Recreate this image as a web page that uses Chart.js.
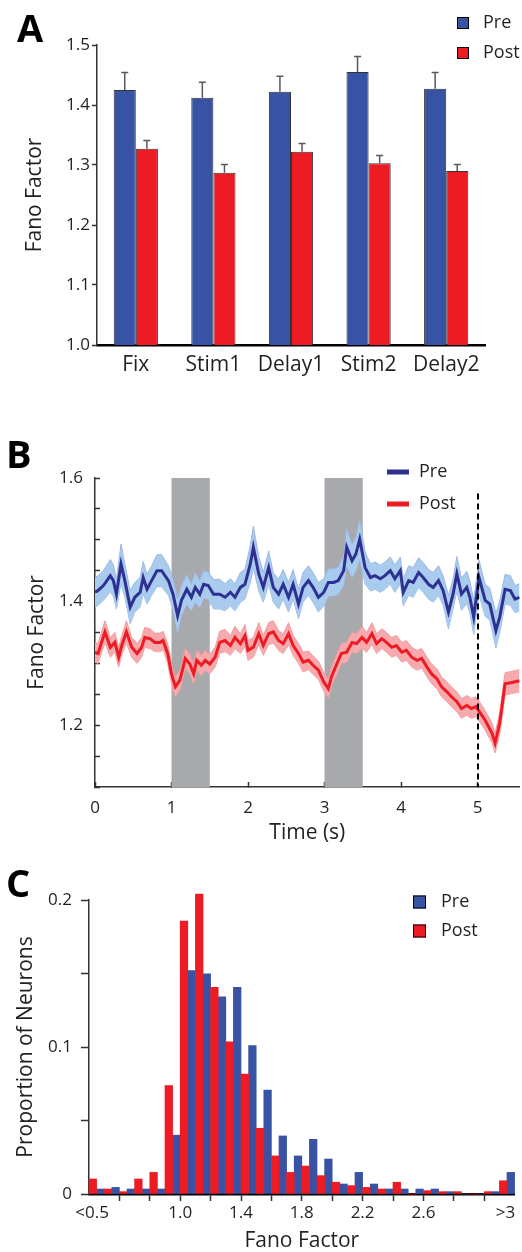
<!DOCTYPE html>
<html>
<head>
<meta charset="utf-8">
<script src="https://cdn.jsdelivr.net/npm/chart.js@4.4.1/dist/chart.umd.min.js"></script>
<style>
    body { margin: 0; background: #fff; width: 522px; height: 1252px; position: relative; overflow: hidden; }
    canvas { position: absolute; left: 0; }
    .panel-letter { position: absolute; font: bold 38px 'Open Sans', sans-serif; line-height: 1; color: #000; }
</style>
</head>
<body>
<canvas id="chartA" width="522" height="400" style="top:0"></canvas>
<canvas id="chartB" width="522" height="430" style="top:420px"></canvas>
<canvas id="chartC" width="522" height="402" style="top:850px"></canvas>
<div class="panel-letter" style="left:17px;top:8px">A</div>
<div class="panel-letter" style="left:6px;top:434px">B</div>
<div class="panel-letter" style="left:6px;top:863px">C</div>
<script>
// ---- Panel A: mean Fano factor per task epoch
var epochLabels = ['Fix', 'Stim1', 'Delay1', 'Stim2', 'Delay2'];
var preMeans = [1.425, 1.412, 1.422, 1.455, 1.427];
var preErrors = [0.029, 0.026, 0.026, 0.026, 0.027];
var postMeans = [1.327, 1.287, 1.322, 1.303, 1.290];
var postErrors = [0.014, 0.014, 0.014, 0.013, 0.011];

// ---- Panel B: Fano factor over time (mean and sem)
var preTime = [0, 0.04, 0.11, 0.20, 0.24, 0.28, 0.34, 0.39, 0.46, 0.52, 0.59, 0.63, 0.68, 0.74, 0.81, 0.87, 0.96, 1.02, 1.08, 1.13,
    1.20, 1.26, 1.31, 1.37, 1.42, 1.48, 1.55, 1.63, 1.70, 1.77, 1.83, 1.90, 1.96, 2.03, 2.07, 2.14, 2.20, 2.27, 2.33, 2.40,
    2.46, 2.53, 2.59, 2.66, 2.72, 2.79, 2.85, 2.92, 2.99, 3.05, 3.12, 3.18, 3.25, 3.29, 3.36, 3.41, 3.46, 3.53, 3.60, 3.66,
    3.73, 3.79, 3.86, 3.92, 3.99, 4.03, 4.10, 4.16, 4.23, 4.29, 4.36, 4.42, 4.49, 4.55, 4.62, 4.68, 4.73, 4.79, 4.86, 4.90,
    4.95, 5.02, 5.10, 5.16, 5.24, 5.29, 5.36, 5.43, 5.49, 5.55];
var preMean = [1.415, 1.418, 1.426, 1.442, 1.434, 1.412, 1.461, 1.434, 1.391, 1.407, 1.415, 1.439, 1.420, 1.434, 1.450, 1.450, 1.434, 1.412, 1.377, 1.402,
    1.420, 1.407, 1.423, 1.412, 1.428, 1.426, 1.412, 1.412, 1.407, 1.415, 1.407, 1.423, 1.428, 1.461, 1.488, 1.445, 1.423, 1.455, 1.423, 1.412,
    1.428, 1.407, 1.428, 1.396, 1.423, 1.434, 1.423, 1.407, 1.415, 1.431, 1.431, 1.434, 1.450, 1.488, 1.466, 1.477, 1.501, 1.455, 1.439, 1.442,
    1.437, 1.442, 1.450, 1.437, 1.450, 1.415, 1.434, 1.431, 1.447, 1.439, 1.428, 1.423, 1.434, 1.418, 1.383, 1.412, 1.445, 1.412, 1.423, 1.407,
    1.375, 1.439, 1.402, 1.396, 1.353, 1.375, 1.420, 1.418, 1.404, 1.407];
var preSem = [0.024, 0.024, 0.024, 0.026, 0.026, 0.024, 0.032, 0.027, 0.027, 0.024, 0.024, 0.026, 0.024, 0.024, 0.026, 0.026, 0.024, 0.024, 0.027, 0.024,
    0.024, 0.022, 0.024, 0.022, 0.022, 0.022, 0.024, 0.024, 0.022, 0.022, 0.022, 0.024, 0.024, 0.030, 0.034, 0.028, 0.024, 0.027, 0.024, 0.024,
    0.024, 0.024, 0.024, 0.024, 0.024, 0.024, 0.024, 0.024, 0.022, 0.022, 0.022, 0.022, 0.024, 0.030, 0.027, 0.027, 0.032, 0.026, 0.022, 0.022,
    0.022, 0.022, 0.022, 0.022, 0.022, 0.022, 0.024, 0.024, 0.024, 0.024, 0.024, 0.024, 0.024, 0.024, 0.027, 0.024, 0.028, 0.026, 0.026, 0.026,
    0.028, 0.028, 0.026, 0.026, 0.028, 0.026, 0.024, 0.024, 0.022, 0.022];

var postTime = [0, 0.04, 0.13, 0.20, 0.26, 0.31, 0.35, 0.41, 0.48, 0.55, 0.61, 0.65, 0.72, 0.78, 0.85, 0.89, 0.95, 1.00, 1.05, 1.11,
    1.18, 1.24, 1.29, 1.33, 1.39, 1.44, 1.50, 1.57, 1.63, 1.70, 1.77, 1.83, 1.90, 1.96, 2.00, 2.07, 2.14, 2.20, 2.27, 2.33,
    2.40, 2.46, 2.53, 2.59, 2.66, 2.72, 2.79, 2.85, 2.92, 2.99, 3.05, 3.09, 3.16, 3.22, 3.29, 3.36, 3.42, 3.49, 3.55, 3.62,
    3.68, 3.75, 3.81, 3.88, 3.94, 4.01, 4.07, 4.14, 4.21, 4.27, 4.34, 4.40, 4.47, 4.53, 4.60, 4.66, 4.73, 4.79, 4.86, 4.92,
    4.98, 5.10, 5.19, 5.23, 5.29, 5.36, 5.45, 5.55];
var postMean = [1.318, 1.316, 1.351, 1.326, 1.334, 1.310, 1.329, 1.351, 1.326, 1.316, 1.326, 1.342, 1.340, 1.334, 1.334, 1.337, 1.316, 1.283, 1.262, 1.273,
    1.308, 1.299, 1.283, 1.305, 1.297, 1.305, 1.299, 1.310, 1.334, 1.337, 1.329, 1.342, 1.332, 1.345, 1.321, 1.326, 1.348, 1.329, 1.348, 1.351,
    1.337, 1.332, 1.348, 1.329, 1.316, 1.302, 1.305, 1.297, 1.289, 1.270, 1.259, 1.278, 1.299, 1.316, 1.318, 1.334, 1.332, 1.342, 1.334, 1.348,
    1.332, 1.340, 1.334, 1.326, 1.329, 1.318, 1.321, 1.310, 1.305, 1.308, 1.294, 1.283, 1.275, 1.262, 1.254, 1.246, 1.238, 1.227, 1.232, 1.227,
    1.230, 1.208, 1.187, 1.171, 1.203, 1.267, 1.269, 1.272];
var postSem = [0.016, 0.016, 0.018, 0.016, 0.016, 0.016, 0.016, 0.018, 0.016, 0.016, 0.016, 0.016, 0.016, 0.015, 0.015, 0.015, 0.016, 0.016, 0.016, 0.016,
    0.016, 0.016, 0.016, 0.016, 0.016, 0.016, 0.016, 0.016, 0.018, 0.018, 0.016, 0.018, 0.016, 0.018, 0.016, 0.016, 0.018, 0.016, 0.018, 0.018,
    0.016, 0.016, 0.018, 0.016, 0.016, 0.016, 0.015, 0.015, 0.015, 0.015, 0.015, 0.016, 0.016, 0.016, 0.016, 0.016, 0.016, 0.018, 0.016, 0.018,
    0.016, 0.016, 0.016, 0.016, 0.016, 0.016, 0.016, 0.016, 0.016, 0.016, 0.016, 0.016, 0.016, 0.016, 0.016, 0.016, 0.016, 0.016, 0.016, 0.016,
    0.016, 0.016, 0.016, 0.016, 0.018, 0.018, 0.018, 0.018];

var stimWindows = [[1.0, 1.5], [3.0, 3.5]];
var cueTime = 5.0;
var bTickLabels = [1.2, 1.4, 1.6];

// ---- Panel C: histogram of Fano factors (bins of 0.1, first/last are <0.5 and >3)
var binCenters = [0.45, 0.55, 0.65, 0.75, 0.85, 0.95, 1.05, 1.15, 1.25, 1.35, 1.45, 1.55, 1.65, 1.75,
    1.85, 1.95, 2.05, 2.15, 2.25, 2.35, 2.45, 2.55, 2.65, 2.75, 2.85, 2.95, 3.05, 3.15];
var preHist = [0.0034, 0.0045, 0.0034, 0.0034, 0.0034, 0.040, 0.152, 0.1497, 0.1342, 0.1406, 0.1009, 0.0707, 0.0395, 0.0259,
    0.0372, 0.0238, 0.0068, 0.0147, 0.0068, 0.0034, 0.0034, 0.0034, 0.0034, 0.0016, 0, 0, 0.0016, 0.0147];
var postHist = [0.0102, 0.0034, 0.0016, 0.0102, 0.0147, 0.0737, 0.1857, 0.204, 0.1406, 0.1036, 0.0816, 0.0447, 0.0259, 0.0147,
    0.019, 0.0125, 0.008, 0.0057, 0.0045, 0.0034, 0.008, 0, 0.0023, 0.0016, 0.0016, 0, 0.0016, 0.009];
var histTickValues = [0.42, 0.6, 0.8, 1.0, 1.2, 1.4, 1.6, 1.8, 2.0, 2.2, 2.4, 2.6, 2.8, 3.0, 3.14];
var histTickLabels = ['<0.5', '', '', '1.0', '', '1.4', '', '1.8', '', '2.2', '', '2.6', '', '', '>3'];

var BLUE = '#3953a4';
var RED = '#ed1c24';
var DARK_BLUE = '#2e3192';
var INK = '#231f20';

Chart.defaults.font.family = "'Open Sans', sans-serif";
Chart.defaults.color = INK;

// upward-only error bars on top of each bar
var errorBarPlugin = {
    id: 'errorBars',
    afterDatasetsDraw: function (chart) {
        var ctx = chart.ctx;
        var yScale = chart.scales.y;
        ctx.save();
        ctx.strokeStyle = '#58595b';
        ctx.lineWidth = 1.5;
        chart.data.datasets.forEach(function (ds, i) {
            chart.getDatasetMeta(i).data.forEach(function (bar, j) {
                var top = yScale.getPixelForValue(ds.data[j] + ds.errors[j]);
                ctx.beginPath();
                ctx.moveTo(bar.x, bar.y);
                ctx.lineTo(bar.x, top);
                ctx.moveTo(bar.x - 3.5, top);
                ctx.lineTo(bar.x + 3.5, top);
                ctx.stroke();
            });
        });
        ctx.restore();
    }
};

// small legend at the top right of each panel
var sideLegend = {
    id: 'sideLegend',
    afterDraw: function (chart, args, opts) {
        var ctx = chart.ctx;
        ctx.save();
        ctx.font = "18px 'Open Sans', sans-serif";
        ctx.textBaseline = 'middle';
        opts.items.forEach(function (item, i) {
            var cy = opts.y + i * opts.gap;
            if (opts.marker === 'line') {
                ctx.strokeStyle = item.color;
                ctx.lineWidth = 5;
                ctx.beginPath();
                ctx.moveTo(opts.x, cy);
                ctx.lineTo(opts.x + 22, cy);
                ctx.stroke();
            } else {
                var s = opts.box;
                ctx.fillStyle = item.color;
                ctx.fillRect(opts.x, cy - s / 2, s, s);
                ctx.strokeStyle = '#000';
                ctx.lineWidth = 1;
                ctx.strokeRect(opts.x + 0.5, cy - s / 2 + 0.5, s - 1, s - 1);
            }
            ctx.fillStyle = INK;
            ctx.fillText(item.label, opts.textX, cy);
        });
        ctx.restore();
    }
};

// grey stimulus windows behind the traces, dashed marker at the cue
var windowsPlugin = {
    id: 'stimWindows',
    beforeDatasetsDraw: function (chart) {
        var ctx = chart.ctx, x = chart.scales.x, y = chart.scales.y;
        ctx.save();
        ctx.fillStyle = '#a7a9ac';
        stimWindows.forEach(function (w) {
            var x0 = x.getPixelForValue(w[0]), x1 = x.getPixelForValue(w[1]);
            ctx.fillRect(x0, y.getPixelForValue(1.6), x1 - x0, y.getPixelForValue(1.1) - y.getPixelForValue(1.6));
        });
        ctx.restore();
    },
    afterDatasetsDraw: function (chart) {
        var ctx = chart.ctx, x = chart.scales.x, y = chart.scales.y;
        var px = Math.round(x.getPixelForValue(cueTime));
        ctx.save();
        ctx.strokeStyle = '#000';
        ctx.lineWidth = 2;
        ctx.setLineDash([6, 4]);
        ctx.beginPath();
        ctx.moveTo(px, y.getPixelForValue(1.575));
        ctx.lineTo(px, y.getPixelForValue(1.1));
        ctx.stroke();
        ctx.restore();
    }
};

var baseOptions = function () {
    return {
        responsive: false,
        animation: false,
        devicePixelRatio: 1,
        events: []
    };
};

// ---------------- Panel A
var optsA = baseOptions();
optsA.layout = { padding: { left: 0, right: 37, top: 45, bottom: 0 } };
optsA.plugins = {
    legend: { display: false },
    tooltip: { enabled: false },
    sideLegend: { marker: 'box', box: 12, x: 457, y: 23, gap: 30, textX: 483,
        items: [{ label: 'Pre', color: BLUE }, { label: 'Post', color: RED }] }
};
optsA.scales = {
    x: {
        grid: { display: false, drawTicks: false },
        border: { display: true, color: '#000', width: 2.5 },
        ticks: { padding: 7, font: { size: 21 } },
        afterFit: function (s) { s.height = 55; }
    },
    y: {
        min: 1.0,
        max: 1.5,
        ticks: { stepSize: 0.1, padding: 2, font: { size: 17 }, callback: function (v) { return v.toFixed(1); } },
        grid: { drawOnChartArea: false, tickLength: 5, tickColor: '#333', tickWidth: 1.5 },
        border: { display: true, color: '#333', width: 1.5 },
        title: { display: true, text: 'Fano Factor', font: { size: 21 }, padding: { top: 22, bottom: 0 } },
        afterFit: function (s) { s.width = 97; }
    }
};

new Chart(document.getElementById('chartA'), {
    type: 'bar',
    data: {
        labels: epochLabels,
        datasets: [
            { label: 'Pre', data: preMeans, errors: preErrors, backgroundColor: BLUE, borderColor: '#333', borderWidth: 1,
                categoryPercentage: 0.57, barPercentage: 1 },
            { label: 'Post', data: postMeans, errors: postErrors, backgroundColor: RED, borderColor: '#333', borderWidth: 1,
                categoryPercentage: 0.57, barPercentage: 1 }
        ]
    },
    options: optsA,
    plugins: [errorBarPlugin, sideLegend]
});

// ---------------- Panel B
function points(times, vals, offsets, sign) {
    return times.map(function (t, i) {
        return { x: t, y: vals[i] + (offsets ? sign * offsets[i] : 0) };
    });
}

var lineStyle = { pointRadius: 0, tension: 0, fill: false };
var optsB = baseOptions();
optsB.layout = { padding: { left: 0, right: 2.4, top: 58, bottom: 0 } };
optsB.plugins = {
    legend: { display: false },
    tooltip: { enabled: false },
    sideLegend: { marker: 'line', x: 387, y: 52, gap: 32, textX: 419,
        items: [{ label: 'Pre', color: DARK_BLUE }, { label: 'Post', color: RED }] }
};
optsB.scales = {
    x: {
        type: 'linear',
        min: 0,
        max: 5.55,
        ticks: { stepSize: 1, includeBounds: false, padding: 16, font: { size: 17 } },
        grid: { drawOnChartArea: false, tickLength: -5, tickColor: '#333', tickWidth: 1.5 },
        border: { display: true, color: '#333', width: 1.5 },
        title: { display: true, text: 'Time (s)', font: { size: 21 }, padding: { top: 0, bottom: 4 } },
        afterFit: function (s) { s.height = 63; }
    },
    y: {
        min: 1.1,
        max: 1.6,
        ticks: {
            stepSize: 0.05, autoSkip: false, padding: 17, font: { size: 17 },
            callback: function (v) {
                return bTickLabels.some(function (t) { return Math.abs(t - v) < 1e-6; }) ? v.toFixed(1) : '';
            }
        },
        grid: { drawOnChartArea: false, tickLength: -5, tickColor: '#333', tickWidth: 1.5 },
        border: { display: true, color: '#333', width: 1.5 },
        title: { display: true, text: 'Fano Factor', font: { size: 21 }, padding: { top: 24, bottom: 0 } },
        afterFit: function (s) { s.width = 95; }
    }
};

new Chart(document.getElementById('chartB'), {
    type: 'line',
    data: {
        datasets: [
            Object.assign({ label: 'Pre', data: points(preTime, preMean), borderColor: DARK_BLUE, borderWidth: 3 }, lineStyle),
            Object.assign({ label: 'Post', data: points(postTime, postMean), borderColor: RED, borderWidth: 3 }, lineStyle),
            Object.assign({ data: points(preTime, preMean, preSem, 1), borderColor: '#9db8e6', borderWidth: 1 }, lineStyle,
                { fill: '+1', backgroundColor: '#a8cbee' }),
            Object.assign({ data: points(preTime, preMean, preSem, -1), borderColor: '#9db8e6', borderWidth: 1 }, lineStyle),
            Object.assign({ data: points(postTime, postMean, postSem, 1), borderColor: '#f49a9e', borderWidth: 1 }, lineStyle,
                { fill: '+1', backgroundColor: '#f6aaad' }),
            Object.assign({ data: points(postTime, postMean, postSem, -1), borderColor: '#f49a9e', borderWidth: 1 }, lineStyle)
        ]
    },
    options: optsB,
    plugins: [windowsPlugin, sideLegend]
});

// ---------------- Panel C
var optsC = baseOptions();
optsC.layout = { padding: { left: 0, right: 7.4, top: 50, bottom: 0 } };
optsC.plugins = {
    legend: { display: false },
    tooltip: { enabled: false },
    sideLegend: { marker: 'box', box: 13, x: 413, y: 52, gap: 29, textX: 441,
        items: [{ label: 'Pre', color: BLUE }, { label: 'Post', color: RED }] }
};
optsC.scales = {
    x: {
        type: 'linear',
        offset: false,
        min: 0.4,
        max: 3.2,
        afterBuildTicks: function (s) {
            s.ticks = histTickValues.map(function (v) { return { value: v }; });
        },
        ticks: {
            autoSkip: false, maxRotation: 0, padding: 2, font: { size: 17 },
            callback: function (v, i) { return histTickLabels[i]; }
        },
        grid: {
            offset: false, drawOnChartArea: false, tickLength: 7, tickWidth: 1.5,
            tickColor: function (c) {
                return (c.index === 0 || c.index === histTickValues.length - 1) ? 'rgba(0,0,0,0)' : '#333';
            }
        },
        border: { display: true, color: '#000', width: 2.5 },
        title: { display: true, text: 'Fano Factor', font: { size: 21, lineHeight: 1 }, padding: 0 },
        afterFit: function (s) { s.height = 58; }
    },
    y: {
        min: 0,
        max: 0.2,
        ticks: {
            stepSize: 0.05, autoSkip: false, padding: 9, font: { size: 17 },
            callback: function (v) {
                if (Math.abs(v) < 1e-9) return '0';
                if (Math.abs(v - 0.1) < 1e-9 || Math.abs(v - 0.2) < 1e-9) return v.toFixed(1);
                return '';
            }
        },
        grid: { drawOnChartArea: false, tickLength: 8, tickColor: '#333', tickWidth: 1.5 },
        border: { display: true, color: '#333', width: 1.5 },
        title: { display: true, text: 'Proportion of Neurons', font: { size: 21 }, padding: { top: 13, bottom: 0 } },
        afterFit: function (s) { s.width = 89; }
    }
};

new Chart(document.getElementById('chartC'), {
    type: 'bar',
    data: {
        datasets: [
            { label: 'Post', data: points(binCenters, postHist), backgroundColor: RED, borderWidth: 0,
                categoryPercentage: 1, barPercentage: 1, clip: false },
            { label: 'Pre', data: points(binCenters, preHist), backgroundColor: BLUE, borderWidth: 0,
                categoryPercentage: 1, barPercentage: 1, clip: false }
        ]
    },
    options: optsC,
    plugins: [sideLegend]
});
</script>
</body>
</html>
